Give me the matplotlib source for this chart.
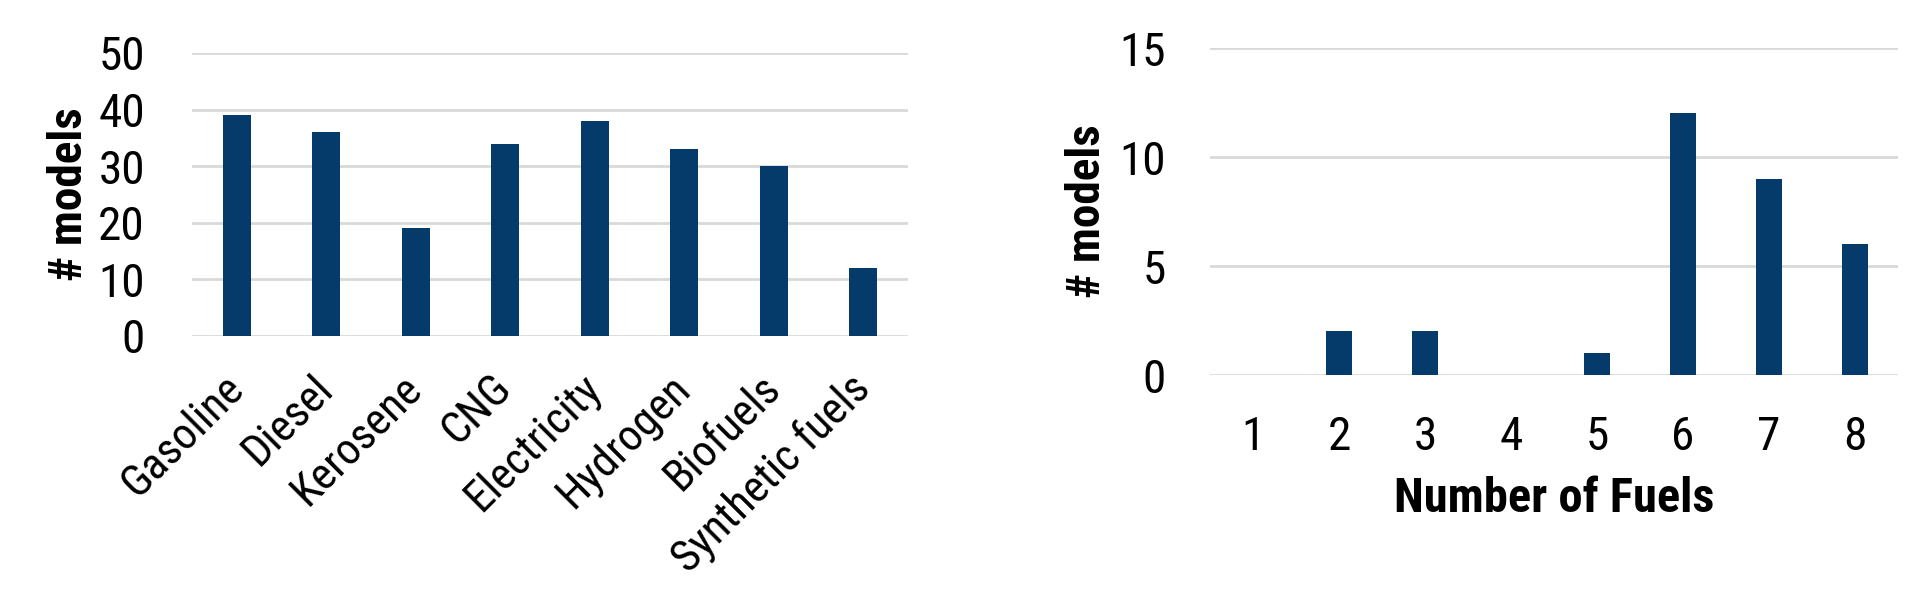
import matplotlib.pyplot as plt

fuels = ["Gasoline", "Diesel", "Kerosene", "CNG", "Electricity",
         "Hydrogen", "Biofuels", "Synthetic fuels"]
fuel_models = [39, 36, 19, 34, 38, 33, 30, 12]

num_fuels = ["1", "2", "3", "4", "5", "6", "7", "8"]
num_fuel_models = [0, 2, 2, 0, 1, 12, 9, 6]

BAR = "#053b6a"
GRID = "#d9d9d9"

# Arial Narrow look-alike
plt.rcParams["font.family"] = ["Roboto Condensed", "Liberation Sans", "DejaVu Sans"]


def style_axis(ax, ymax, ystep):
    ax.set_ylim(0, ymax)
    ax.set_yticks(range(0, ymax + 1, ystep))
    ax.set_xlim(-0.5, 7.5)
    ax.grid(axis="y", color=GRID, linewidth=2)
    ax.set_axisbelow(True)
    for s in ax.spines.values():
        s.set_visible(False)
    ax.tick_params(length=0, labelsize=34)
    ax.set_ylabel("# models", fontsize=34, fontweight="bold")


fig = plt.figure(figsize=(19.32, 6.08), dpi=100)

ax1 = fig.add_axes([0.0994, 0.4474, 0.3706, 0.4655])
ax1.bar(range(len(fuels)), fuel_models, width=0.31, color=BAR)
style_axis(ax1, 50, 10)
ax1.tick_params(axis="y", pad=34)
ax1.set_xticks(range(len(fuels)))
ax1.set_xticklabels(fuels, rotation=45, ha="right", va="center",
                    rotation_mode="anchor", fontsize=32)
ax1.tick_params(axis="x", pad=33)
ax1.yaxis.set_label_coords(-0.141, 0.5)

ax2 = fig.add_axes([0.6263, 0.3832, 0.3561, 0.5378])
ax2.bar(range(len(num_fuels)), num_fuel_models, width=0.31, color=BAR)
style_axis(ax2, 15, 5)
ax2.tick_params(axis="y", pad=32)
ax2.set_xticks(range(len(num_fuels)))
ax2.set_xticklabels(num_fuels)
ax2.tick_params(axis="x", pad=29)
ax2.set_xlabel("Number of Fuels", fontsize=35, fontweight="bold", labelpad=12)
ax2.yaxis.set_label_coords(-0.147, 0.5)

fig.savefig("out.png", dpi=100)
